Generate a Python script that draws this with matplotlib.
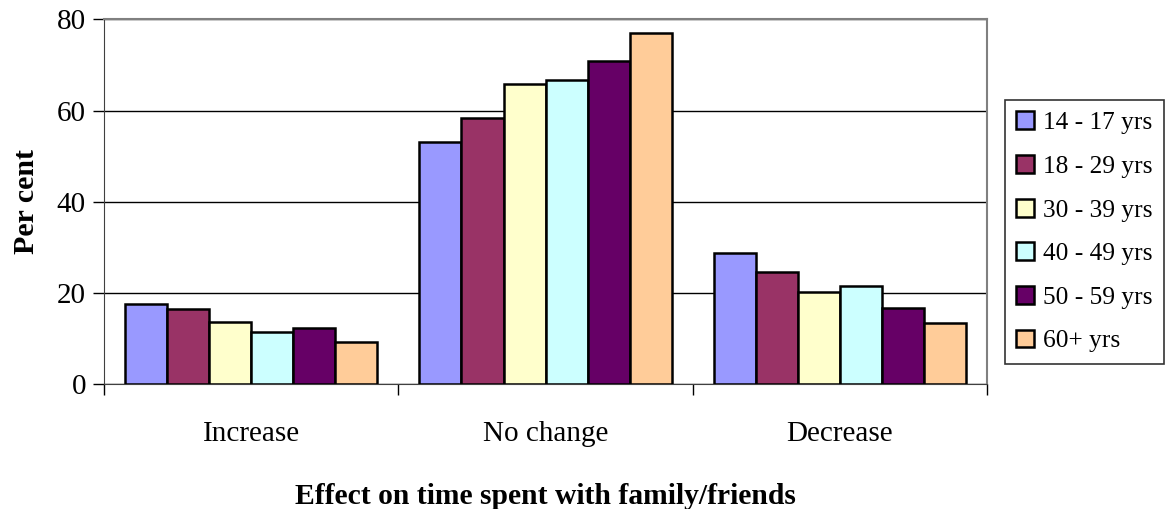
import numpy as np
import matplotlib
matplotlib.use("Agg")
import matplotlib.pyplot as plt

categories = ["Increase", "No change", "Decrease"]
age_groups = ["14 - 17 yrs", "18 - 29 yrs", "30 - 39 yrs", "40 - 49 yrs", "50 - 59 yrs", "60+ yrs"]
values = {
    "14 - 17 yrs": [17.6, 53.1, 28.8],
    "18 - 29 yrs": [16.6, 58.4, 24.7],
    "30 - 39 yrs": [13.7, 65.8, 20.2],
    "40 - 49 yrs": [11.4, 66.7, 21.6],
    "50 - 59 yrs": [12.3, 70.8, 16.7],
    "60+ yrs":     [9.3, 77.1, 13.4],
}
colors = ["#9999FF", "#993366", "#FFFFCC", "#CCFFFF", "#660066", "#FFCC99"]
y_ticks = [0, 20, 40, 60, 80]

plt.rcParams["font.family"] = ["Liberation Serif", "DejaVu Serif"]

fig = plt.figure(figsize=(11.65, 5.09), dpi=100)
ax = fig.add_axes([0.0893, 0.2446, 0.7580, 0.7171])

n = len(age_groups)
bar_w = 1.0 / (n + 1)
x = np.arange(len(categories))
for i, (grp, col) in enumerate(zip(age_groups, colors)):
    offs = (i - (n - 1) / 2) * bar_w
    ax.bar(x + offs, values[grp], width=bar_w, color=col, edgecolor="black",
           linewidth=1.8, label=grp, zorder=3)

ax.set_xlim(-0.5, len(categories) - 0.5)
ax.set_ylim(0, 80)
ax.set_yticks(y_ticks)
ax.tick_params(axis="y", labelsize=21, length=8, width=1, direction="out", pad=5)
ax.yaxis.grid(True, color="black", linewidth=1, zorder=0)

ax.set_xticks(x)
ax.set_xticklabels(categories)
ax.tick_params(axis="x", which="major", length=0, labelsize=21, pad=26)
ax.set_xticks(np.arange(-0.5, len(categories), 1.0), minor=True)
ax.tick_params(axis="x", which="minor", length=8, width=1, direction="out")

for side in ["top", "right"]:
    ax.spines[side].set_color("#808080")
    ax.spines[side].set_linewidth(1.5)
ax.spines["left"].set_color("#404040")
ax.spines["bottom"].set_color("#404040")

ax.set_ylabel("Per cent", fontsize=21.5, fontweight="bold", labelpad=12)
ax.set_xlabel("Effect on time spent with family/friends", fontsize=21.3,
              fontweight="bold", labelpad=26)

leg = ax.legend(loc="upper left", bbox_to_anchor=(0.8627, 0.8035),
                bbox_transform=fig.transFigure, fontsize=18.3, frameon=True,
                fancybox=False, edgecolor="black", handlelength=0.7,
                handleheight=0.7, handletextpad=0.35, labelspacing=0.82,
                borderpad=0.45, borderaxespad=0)
leg.get_frame().set_linewidth(1.2)

fig.savefig("out.png", dpi=100, facecolor="white")
